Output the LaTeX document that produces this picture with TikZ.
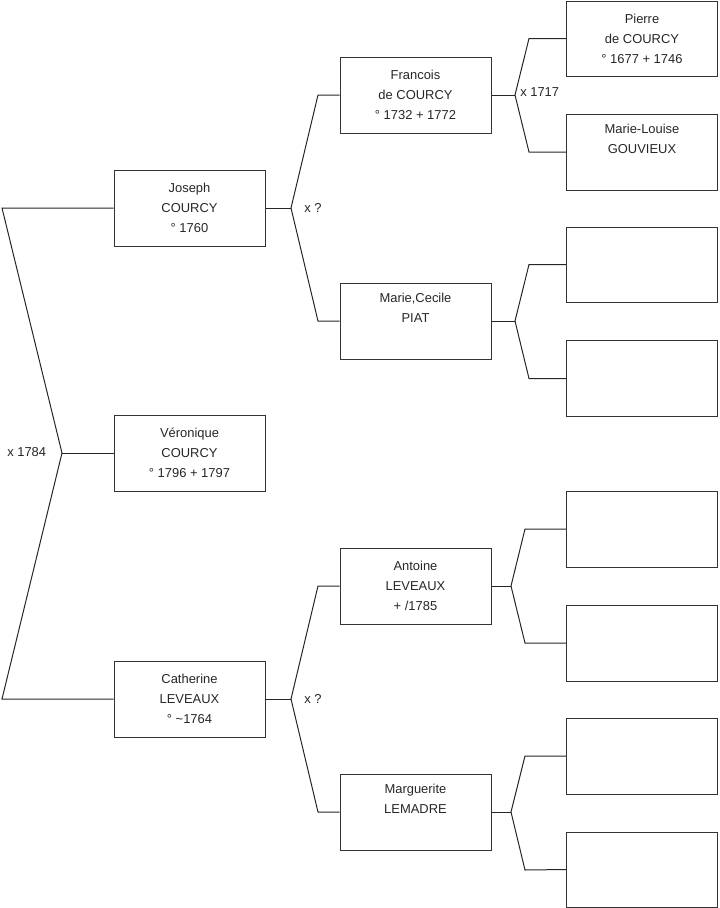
\documentclass[tikz,border=0pt]{standalone}
\usepackage{fontspec}
\setmainfont{Liberation Sans}
\begin{document}
\begin{tikzpicture}[x=0.75pt,y=-0.75pt,
  person/.style={draw=black!80, line width=0.75pt, rectangle, minimum width=113.25pt, minimum height=57pt, inner sep=0pt, align=center, font=\fontsize{9.7}{15}\selectfont, text=black!85},
  lbl/.style={anchor=west, inner sep=0pt, font=\fontsize{9.7}{12}\selectfont, text=black!85},
  link/.style={line width=0.75pt, draw=black!85}]
\useasboundingbox (0,0) rectangle (719,908);
% generation 1
\node[person] (jo) at (189.5,208) {Joseph\\COURCY\\° 1760};
\node[person] (ve) at (189.5,453) {Véronique\\COURCY\\° 1796 + 1797};
\node[person] (ca) at (189.5,699) {Catherine\\LEVEAUX\\° \textasciitilde1764};
% generation 2
\node[person] (fr) at (415.5,95) {Francois\\de COURCY\\° 1732 + 1772};
\node[person] (mc) at (415.5,321) {Marie,Cecile\\PIAT\\\strut};
\node[person] (an) at (415.5,586) {Antoine\\LEVEAUX\\+ /1785};
\node[person] (ma) at (415.5,812) {Marguerite\\LEMADRE\\\strut};
% generation 3
\node[person, minimum height=56.25pt] (p1) at (642,38.5) {Pierre\\de COURCY\\° 1677 + 1746};
\node[person] (p2) at (642,152) {Marie-Louise\\GOUVIEUX\\\strut};
\node[person, minimum height=56.25pt] (p3) at (642,264.5) {};
\node[person] (p4) at (642,378.5) {};
\node[person] (p5) at (642,529) {};
\node[person] (p6) at (642,643) {};
\node[person] (p7) at (642,756) {};
\node[person, minimum height=56.25pt] (p8) at (642,869.5) {};
% fork points
\coordinate (fA) at (62,453);
\coordinate (tA) at (2,208);
\coordinate (bA) at (2,699);
\coordinate (fB) at (291,208);
\coordinate (fC) at (291,699);
\coordinate (fD) at (515,95);
\coordinate (fE) at (515,321);
\coordinate (fF) at (511,586);
\coordinate (fG) at (511,812);
% connectors
\draw[link] (jo.west) -- (tA) -- (fA) -- (bA) -- (ca.west);
\draw[link] (fA) -- (ve.west);
\draw[link] (jo.east) -- (fB);
\draw[link] (fr.west) -- (318,95) -- (fB) -- (318,321) -- (mc.west);
\draw[link] (ca.east) -- (fC);
\draw[link] (an.west) -- (318,586) -- (fC) -- (318,812) -- (ma.west);
\draw[link] (fr.east) -- (fD);
\draw[link] (p1.west) -- (529,38.5) -- (fD) -- (529,152) -- (p2.west);
\draw[link] (mc.east) -- (fE);
\draw[link] (p3.west) -- (529,264.5) -- (fE) -- (529,378.5) -- (p4.west);
\draw[link] (an.east) -- (fF);
\draw[link] (p5.west) -- (525,529) -- (fF) -- (525,643) -- (p6.west);
\draw[link] (ma.east) -- (fG);
\draw[link] (p7.west) -- (525,756) -- (fG) -- (525,870) -- (p8.west);
% marriage labels
\node[lbl] (m1) at (7,452) {x 1784};
\node[lbl] (m2) at (304,208) {x ?};
\node[lbl] (m3) at (304,699) {x ?};
\node[lbl] (m4) at (520,92) {x 1717};
\end{tikzpicture}
\end{document}
